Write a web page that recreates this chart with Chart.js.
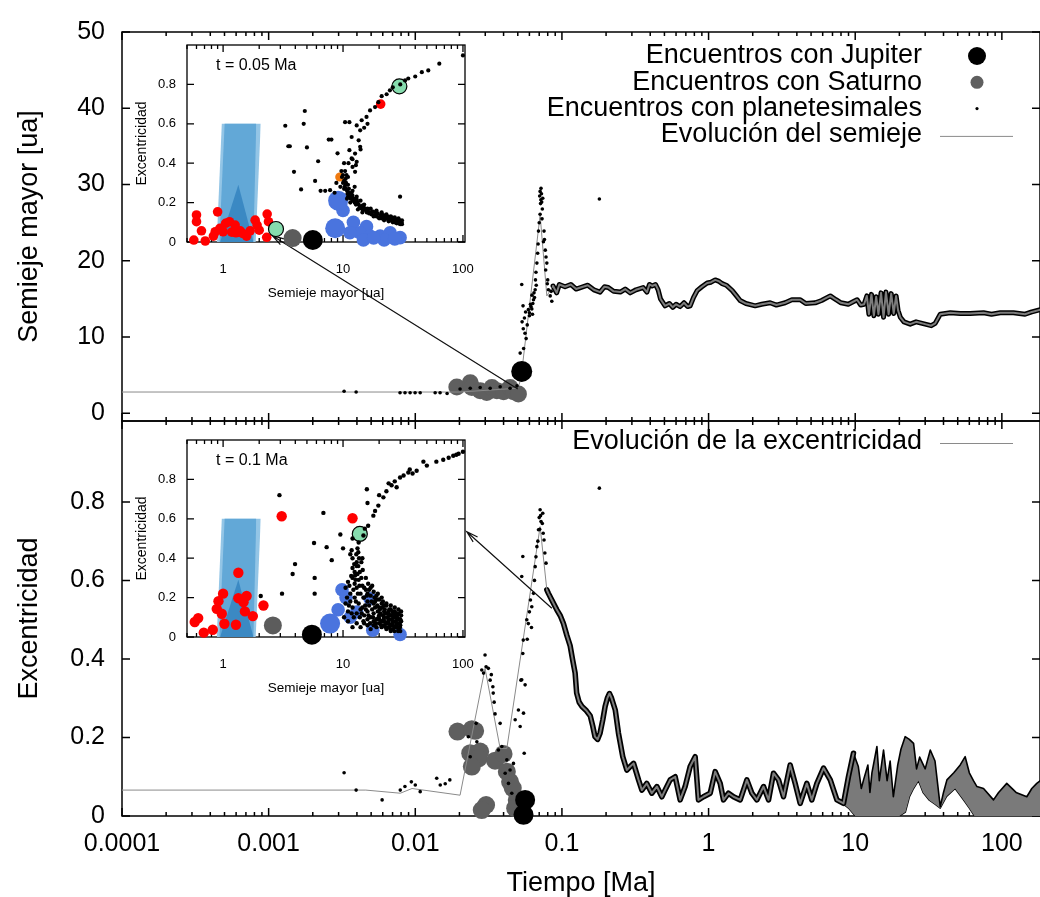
<!DOCTYPE html>
<html>
<head>
<meta charset="utf-8">
<title>Semieje y excentricidad</title>
<script src="https://cdn.jsdelivr.net/npm/chart.js@4.4.1/dist/chart.umd.min.js"></script>
<style>
  html,body{margin:0;background:#fff}
  #wrap{position:relative;width:1040px;height:897px;overflow:hidden;background:#fff}
  #wrap canvas{position:absolute;left:0;top:0}
</style>
</head>
<body>
<div id="wrap">
  <canvas id="cTop" width="1040" height="897"></canvas>
  <canvas id="cBot" width="1040" height="897"></canvas>
  <canvas id="cInA" width="1040" height="897"></canvas>
  <canvas id="cInB" width="1040" height="897"></canvas>
</div>
<script>
// ---- axes ----
const timeTicks = [1e-4, 1e-3, 0.01, 0.1, 1, 10, 100];
const timeLabels = ['0.0001', '0.001', '0.01', '0.1', '1', '10', '100'];
const semiTicks = [0, 10, 20, 30, 40, 50];
const semiLabels = ['0', '10', '20', '30', '40', '50'];
const eccTicks = [0, 0.2, 0.4, 0.6, 0.8];
const eccLabels = ['0', '0.2', '0.4', '0.6', '0.8'];
const insetTicks = [1, 10, 100];
const insetLabels = ['1', '10', '100'];

const legendTop = ['Encuentros con Jupiter', 'Encuentros con Saturno', 'Encuentros con planetesimales', 'Evolución del semieje'];
const legendBot = ['Evolución de la excentricidad'];

// ---- semieje mayor [ua] vs tiempo [Ma] ----
const semiEarly = [[1e-4,2.8],[0.0202,2.8],[0.035,3.1],[0.05,3.3],[0.0525,4.5],[0.071,26.0],[0.0789,15.4],[0.087,16.7]];
const semiTrack = [[0.087,16.7],[0.092,15.8],[0.096,16.9],[0.105,16.6],[0.115,16.9],[0.125,16.3],[0.134,16.5],[0.15,16.8],
  [0.165,16.2],[0.182,15.9],[0.195,16.6],[0.207,16.5],[0.225,16.0],[0.25,15.9],[0.27,16.3],[0.292,15.8],[0.32,16.2],
  [0.358,16.5],[0.38,15.9],[0.395,16.9],[0.412,16.7],[0.435,16.9],[0.453,16.2],[0.47,15.0],[0.505,14.1],[0.54,14.4],
  [0.57,13.9],[0.60,14.3],[0.64,14.0],[0.68,14.5],[0.72,14.0],[0.749,14.1],[0.79,15.2],[0.836,16.1],[0.9,16.6],
  [0.978,17.1],[1.04,17.2],[1.11,17.5],[1.18,17.3],[1.24,17.0],[1.32,16.8],[1.45,16.1],[1.55,15.4],[1.64,14.8],
  [1.8,14.4],[2.08,14.1],[2.3,14.3],[2.63,14.5],[2.9,14.2],[3.33,14.5],[3.7,14.9],[4.22,14.9],[4.6,14.4],[5.34,14.5],
  [5.9,14.8],[6.76,15.4],[7.4,14.9],[8.0,14.5],[8.96,14.3],[9.6,14.6],[10.3,14.9],[10.9,14.2],[11.5,14.3],[12.0,15.4],
  [12.4,13.0],[12.9,15.6],[13.4,12.8],[13.9,15.3],[14.4,13.0],[15.0,15.8],[15.6,12.6],[16.2,15.9],[16.9,13.0],
  [17.6,15.7],[18.3,13.1],[19.0,15.4],[19.6,13.5],[20.3,12.6],[21.5,12.0],[23.7,11.7],[26,12.0],[30,11.7],[33,11.5],
  [35.1,11.8],[38,13.0],[44.5,13.2],[52,13.1],[60.8,13.1],[75,13.2],[85,13.0],[97.5,13.2],[120,13.2],[144,13.0],
  [160,13.3],[183,13.6]];
const pdTop = [[0.00327,2.9],[0.00395,2.8],[0.00787,2.7],[0.00851,2.7],[0.00922,2.7],[0.00997,2.7],[0.0108,2.7],
  [0.01366,2.7],[0.01476,2.7],[0.01648,2.6],[0.0202,3.2],[0.0237,3.3],[0.0277,3.4],[0.0324,3.3],[0.0379,3.5],
  [0.0443,3.3],[0.0494,3.6],[0.052,5.0],[0.0525,6.5],[0.0519,7.9],[0.0548,8.5],[0.057,9.8],[0.056,10.5],[0.0545,11.1],
  [0.058,11.6],[0.0535,12.0],[0.0555,12.5],[0.060,12.8],[0.063,13.0],[0.0565,13.3],[0.059,13.6],[0.0623,13.7],
  [0.0543,14.1],[0.061,14.3],[0.064,14.9],[0.0625,15.5],[0.0645,15.8],[0.0657,16.2],[0.0532,16.9],[0.066,17.5],
  [0.0665,18.5],[0.0675,19.7],[0.0683,21.0],[0.0692,23.9],[0.070,25.0],[0.0710,26.1],[0.0715,27.5],[0.0710,29.1],
  [0.0705,28.5],[0.0725,28.8],[0.072,29.5],[0.0728,27.7],[0.0740,28.2],[0.0735,26.8],[0.0755,23.9],[0.0748,22.5],
  [0.0770,21.4],[0.0779,20.5],[0.0789,19.7],[0.0800,17.5],[0.0809,16.2],[0.0832,15.4],[0.0853,14.7],[0.0845,16.0],
  [0.0600,13.2],[0.0615,14.0],[0.0633,14.4],[0.0650,15.2],[0.0668,16.8],[0.0688,22.2],[0.0718,28.0],[0.0732,25.5],
  [0.0760,22.8],[0.0775,18.8],[0.0795,17.0],[0.18,28.1]];
const satTop = [[0.0192,3.47],[0.0237,4.0],[0.0243,3.38],[0.0277,2.96],[0.0307,2.74],[0.0333,3.38],[0.036,2.96],
  [0.040,2.83],[0.0443,3.38],[0.0467,2.83],[0.0505,2.53]];
const jupTop = [[0.0532,5.5]];

// ---- excentricidad vs tiempo [Ma] ----
const eccEarly = [[1e-4,0.066],[0.0046,0.066],[0.0079,0.058],[0.0095,0.070],[0.0202,0.053],[0.0299,0.376],
  [0.0379,0.172],[0.0421,0.172],[0.071,0.737],[0.0789,0.576]];
const eccTrack = [[0.0789,0.576],[0.0809,0.567],[0.0853,0.55],[0.0923,0.525],[0.0975,0.51],[0.1024,0.49],[0.108,0.46],
  [0.1137,0.434],[0.118,0.40],[0.123,0.364],[0.126,0.313],[0.131,0.29],[0.137,0.279],[0.147,0.268],[0.156,0.255],
  [0.162,0.23],[0.168,0.202],[0.175,0.195],[0.182,0.211],[0.19,0.245],[0.197,0.279],[0.204,0.30],[0.211,0.312],
  [0.218,0.30],[0.231,0.27],[0.243,0.211],[0.26,0.151],[0.277,0.117],[0.292,0.126],[0.308,0.134],[0.333,0.092],
  [0.351,0.066],[0.379,0.083],[0.41,0.058],[0.444,0.075],[0.48,0.049],[0.505,0.066],[0.547,0.092],[0.592,0.10],
  [0.64,0.041],[0.692,0.075],[0.749,0.126],[0.81,0.151],[0.853,0.041],[0.923,0.049],[1.026,0.058],[1.109,0.113],
  [1.2,0.083],[1.264,0.041],[1.367,0.058],[1.479,0.049],[1.643,0.041],[1.825,0.092],[1.974,0.058],[2.134,0.041],
  [2.37,0.075],[2.564,0.041],[2.771,0.109],[2.998,0.092],[3.243,0.049],[3.6,0.13],[3.896,0.083],[4.214,0.032],
  [4.677,0.083],[5.058,0.041],[5.478,0.083],[6.08,0.122],[6.757,0.092],[7.5,0.041],[8.32,0.032],[8.99,0.10],[9.73,0.16]];
const eccHi = [[8.32,0.032],[8.99,0.10],[9.73,0.16],[10.5,0.126],[11.0,0.07],[11.4,0.092],[12.2,0.13],[12.6,0.06],
  [13.0,0.11],[14.06,0.177],[14.6,0.09],[15.6,0.168],[16.5,0.09],[17.3,0.14],[18.2,0.049],[19.5,0.13],[20.5,0.17],
  [21.9,0.202],[23.4,0.195],[25.0,0.185],[26.2,0.12],[27.5,0.15],[30,0.12],[32.5,0.168],[35,0.14],[38.0,0.024],
  [40,0.06],[42.2,0.092],[47,0.11],[52,0.13],[56.2,0.151],[60,0.11],[64,0.09],[67.6,0.075],[75,0.07],[87.7,0.041],
  [95,0.06],[108,0.083],[125,0.06],[148,0.049],[160,0.07],[173,0.083],[183,0.09]];
const eccLo = [[8.32,0.03],[9,0.02],[10,0.0],[12,0.0],[15,0.0],[18,0.0],[20,0.0],[22,0.01],[23.5,0.05],[25,0.07],
  [27,0.09],[29,0.06],[32,0.04],[35,0.03],[38,0.02],[42,0.05],[48,0.07],[55,0.04],[60,0.02],[65,0.0],[80,0.0],
  [100,0.0],[130,0.0],[160,0.0],[183,0.0]];
const pdBot = [[0.00327,0.11],[0.00395,0.066],[0.00594,0.041],[0.0079,0.066],[0.0085,0.075],[0.0094,0.087],
  [0.0100,0.079],[0.0108,0.062],[0.0140,0.096],[0.0148,0.079],[0.0160,0.082],[0.0172,0.092],
  [0.0230,0.202],[0.0237,0.151],[0.0260,0.236],[0.0263,0.189],[0.0284,0.372],[0.0292,0.364],[0.0299,0.410],
  [0.0304,0.380],[0.0315,0.376],[0.0324,0.346],[0.0338,0.329],[0.0340,0.313],[0.0330,0.36],[0.0345,0.29],
  [0.0350,0.26],[0.0379,0.236],[0.0389,0.177],[0.0369,0.168],[0.0421,0.143],[0.0443,0.117],[0.0410,0.109],
  [0.0467,0.134],[0.0432,0.083],[0.0455,0.058],[0.0480,0.245],[0.0505,0.27],[0.0519,0.228],[0.0553,0.160],
  [0.0547,0.262],[0.0561,0.334],[0.0525,0.346],[0.0532,0.347],[0.0541,0.414],[0.0545,0.448],[0.0576,0.5],
  [0.0623,0.533],[0.0640,0.567],[0.0657,0.635],[0.0675,0.686],[0.0692,0.729],[0.0710,0.780],[0.0740,0.771],
  [0.0755,0.703],[0.0779,0.644],[0.0541,0.661],[0.0532,0.61],[0.0600,0.52],[0.062,0.48],[0.058,0.45],
  [0.0700,0.76],[0.0720,0.75],[0.0705,0.73],[0.0735,0.745],[0.0590,0.49],[0.0610,0.55],[0.0650,0.60],
  [0.0665,0.66],[0.0685,0.70],[0.0715,0.765],[0.0745,0.72],[0.0765,0.67],[0.18,0.835]];
const satBot = [[0.0194,0.215],[0.0243,0.221],[0.0256,0.217],[0.0237,0.160],[0.0277,0.164],[0.0270,0.147],
  [0.0243,0.126],[0.0304,0.028],[0.0284,0.015],[0.035,0.141],[0.040,0.158],[0.0421,0.113],[0.0443,0.087],
  [0.0462,0.071],[0.0492,0.041],[0.048,0.020]];
const jupBot = [[0.0561,0.041],[0.0547,0.003]];

// arrows: from the main curve to each inset
const arrowTop = [[0.05,3.2],[0.00106,23.3]];
const arrowBot = [[0.0853,0.529],[0.02245,0.724]];

// ---- insets: excentricidad vs semieje [ua] ----
const zoneOuterBase = [[0.885,0],[1.87,0],[2.06,0.6]];
const zoneOuterTop = [[0.885,0],[0.975,0.6],[2.06,0.6]];
const zoneInnerBase = [[0.93,0],[1.79,0],[1.89,0.6]];
const zoneInnerTop = [[0.93,0],[1.03,0.6],[1.89,0.6]];
const zonePeak = [[0.944,0],[1.34,0.29],[1.79,0]];

// t = 0.05 Ma
const aBlack = [[100,0.947],[63.5,0.905],[51.4,0.871],[45.4,0.862],[40,0.84],[35,0.83],[32.9,0.82],[30,0.80],
  [26,0.785],[24.6,0.77],[23.1,0.75],[21,0.74],[19.7,0.71],[18.5,0.685],[16.8,0.668],[15.7,0.635],[14.3,0.618],
  [13.0,0.592],[11.3,0.608],[10.4,0.608],[13.9,0.567],[11.8,0.533],[13.5,0.516],[13.9,0.483],[11.3,0.466],
  [12.6,0.449],[11.8,0.424],[13.0,0.407],[11.1,0.40],[12.0,0.381],[12.6,0.356],[10.7,0.339],[29.9,0.23],
  [3.3,0.59],[3.5,0.486],[3.6,0.486],[4.7,0.60],[4.8,0.665],[5.0,0.48],[3.9,0.356],[4.47,0.267],[5.85,0.31],
  [6.2,0.41],[7.1,0.26],[7.6,0.52],[8.0,0.52],[7.8,0.263],[8.5,0.25],[6.5,0.26],[9.0,0.45],[8.8,0.30],
  [9.8,0.33],[10.2,0.31],[10.5,0.29],[10.2,0.27],[10.8,0.26],[11.2,0.25],[11.0,0.23],[11.8,0.25],[12.2,0.22],
  [12.5,0.20],[13.0,0.21],[13.5,0.19],[14.0,0.18],[14.8,0.18],[15.5,0.16],[16.2,0.165],[17.0,0.15],[17.9,0.153],
  [18.8,0.14],[19.5,0.145],[20.5,0.135],[21.7,0.137],[22.5,0.125],[23.5,0.13],[24.5,0.12],[25.5,0.115],[26.3,0.12],
  [27.5,0.11],[28.5,0.105],[29.5,0.10],[30.9,0.098],[31,0.11],[29,0.12],[27,0.125],[25,0.13],[23,0.14],[21,0.15],
  [19,0.16],[17,0.17],[15,0.19],[13,0.23],[12,0.26],[11,0.29],[10.5,0.32],[12.5,0.28],[14,0.21],[16,0.155],
  [18,0.13],[20,0.12],[22,0.11],[24,0.105],[26,0.1],[28,0.095],[30,0.09],[11.5,0.20],[10.8,0.22],[13.3,0.165],
  [14.5,0.15],[9.5,0.28],[10.2,0.40],[12,0.42],[15,0.58],[16,0.60],[14,0.47],[12.8,0.39],
  [10.0,0.30],[10.3,0.28],[10.6,0.27],[10.9,0.245],[11.3,0.235],[11.6,0.22],[12.0,0.21],[12.4,0.215],[12.8,0.19],
  [13.2,0.2],[13.7,0.175],[14.2,0.17],[14.6,0.165],[15.2,0.17],[15.8,0.15],[16.5,0.145],[17.3,0.14],[18.2,0.135],
  [19.0,0.13],[19.8,0.125],[20.8,0.12],[21.5,0.125],[22.2,0.115],[23.0,0.12],[24.0,0.11],[25.0,0.11],[26.0,0.105],
  [27.0,0.1],[28.0,0.1],[29.0,0.095],[30.0,0.1],[31.0,0.09],[29.5,0.11],[27.5,0.115],[25.5,0.125],[23.5,0.125],
  [21.0,0.135],[19.0,0.145],[17.5,0.155],[16.0,0.17],[14.5,0.185],[13.0,0.215],[12.0,0.235],[11.2,0.27],[10.6,0.30],
  [10.0,0.34],[9.7,0.36],[10.4,0.36],[11.0,0.33]];
const aRed = [[0.57,0.01],[0.60,0.137],[0.60,0.103],[0.66,0.057],[0.71,0.005],[0.83,0.03],[0.86,0.052],[0.90,0.153],
  [0.94,0.069],[1.0,0.052],[1.05,0.095],[1.13,0.103],[1.18,0.05],[1.26,0.086],[1.28,0.047],[1.39,0.057],[1.45,0.044],
  [1.57,0.03],[1.68,0.057],[1.85,0.111],[1.92,0.086],[2.0,0.06],[2.31,0.024],[2.33,0.142],[2.39,0.103],[20.6,0.70]];
const aBlueBig = [[9.1,0.21],[8.6,0.07]];
const aBlue = [[9.5,0.19],[10,0.16],[12.2,0.10],[15.7,0.078],[13.8,0.047],[16.8,0.03],[20.4,0.03],[24.7,0.047],
  [29.9,0.022],[14.8,0.01],[11.4,0.047],[22,0.01],[18,0.02],[27,0.015]];
const aGreen = [[2.76,0.066],[29.5,0.79]];
const aOrange = [[9.4,0.33]];
const aSat = [[3.8,0.02]];
const aJup = [[5.6,0.01]];

// t = 0.1 Ma
const bBlack = [[83,0.92],[88,0.925],[92,0.93],[100,0.94],[76,0.91],[68.5,0.90],[60,0.89],[46.8,0.89],[41.1,0.844],
  [38,0.83],[35,0.835],[32,0.82],[29.9,0.81],[27,0.79],[25.4,0.77],[23,0.74],[21.7,0.709],[19.7,0.667],[18.5,0.64],
  [17.9,0.616],[16.2,0.565],[15.2,0.55],[14.8,0.515],[13.4,0.43],[13.0,0.38],[12.6,0.312],[16,0.68],[20,0.72],
  [24,0.78],[28,0.76],[36,0.85],[50,0.87],[12,0.35],[13.5,0.48],[11.5,0.42],[14.5,0.40],[12,0.5],[15.8,0.75],
  [2.95,0.72],[3.98,0.37],[3.8,0.32],[3.1,0.22],[2.06,0.208],[5.73,0.477],[5.8,0.30],[5.8,0.22],[6.86,0.63],
  [7.3,0.456],[8.05,0.39],[9.5,0.52],[10,0.45],
  [10.5,0.25],[11,0.28],[11.5,0.22],[12,0.30],[12.5,0.27],[13,0.25],[13.5,0.29],[14,0.22],[14.5,0.26],[15,0.2],
  [15.5,0.24],[16,0.18],[17,0.21],[18,0.17],[19,0.19],[20,0.15],[21,0.17],[22,0.13],[23,0.16],[24,0.12],[25,0.14],
  [26,0.11],[27,0.13],[28,0.1],[29,0.12],[30,0.09],[30,0.06],[29,0.04],[28,0.07],[27,0.05],[26,0.08],[25,0.06],
  [24,0.09],[23,0.07],[22,0.1],[21,0.08],[20,0.11],[19,0.09],[18,0.12],[17,0.1],[16,0.13],[15,0.11],[14,0.14],
  [13,0.12],[12,0.15],[11,0.13],[10.5,0.17],[11.5,0.18],[12.5,0.2],[13.5,0.17],[14.5,0.15],[15.5,0.14],[16.5,0.16],
  [17.5,0.14],[18.5,0.15],[19.5,0.13],[20.5,0.12],[21.5,0.11],[22.5,0.12],[23.5,0.1],[24.5,0.11],[25.5,0.09],
  [26.5,0.1],[27.5,0.08],[28.5,0.09],[29.5,0.07],[12,0.05],[13,0.07],[14,0.05],[15,0.07],[16,0.06],[17,0.04],
  [18,0.06],[19,0.05],[20,0.07],[21,0.05],[22,0.06],[23,0.04],[24,0.05],[25,0.03],[26,0.04],[11,0.08],[10.2,0.1],
  [16,0.09],[18,0.08],[20,0.09],[22,0.08],[24,0.07],[26,0.06],[28,0.05],[30,0.03],[12.5,0.33],[13,0.36],[12,0.4],
  [13.8,0.33],[14.2,0.38],[11.8,0.44],[13.2,0.45],[14.8,0.2],[17.5,0.26],[19.5,0.22],[16.5,0.24],[21,0.2],
  [10.8,0.2],[11.2,0.16],[11.8,0.12],[12.3,0.1],[12.8,0.18],[13.3,0.22],[13.8,0.1],[14.3,0.12],[14.8,0.08],
  [15.3,0.16],[15.8,0.21],[16.3,0.11],[16.8,0.07],[17.3,0.18],[17.8,0.1],[18.3,0.2],[18.8,0.07],[19.3,0.16],
  [19.8,0.1],[20.3,0.14],[20.8,0.06],[21.3,0.15],[21.8,0.09],[22.3,0.14],[22.8,0.05],[23.3,0.12],[23.8,0.08],
  [24.3,0.14],[24.8,0.04],[25.3,0.11],[25.8,0.07],[26.3,0.12],[26.8,0.03],[27.3,0.1],[27.8,0.06],[28.3,0.11],
  [28.8,0.03],[29.3,0.09],[29.8,0.05],[30.5,0.08],[30.5,0.11],[12.2,0.24],[12.7,0.29],[13.2,0.32],[13.7,0.26],
  [14.2,0.3],[11.3,0.26],[11.7,0.31],[12.4,0.37],[13.6,0.4],[12.9,0.42],[13.4,0.36],[14.6,0.34],[15.5,0.3],
  [16.2,0.27],[17,0.25],[18,0.23],[19,0.21],[20,0.19],[21.5,0.18],[23,0.17],[25,0.16],[27,0.15],[29,0.14],
  [30.5,0.13],[15,0.25],[16,0.22],[18.5,0.18],[22,0.16],[24,0.13],[26,0.13],[28,0.12]];
const bRed = [[0.58,0.076],[0.62,0.096],[0.69,0.022],[0.82,0.037],[0.885,0.143],[0.915,0.182],[0.975,0.118],
  [1.0,0.22],[1.025,0.067],[1.28,0.062],[1.34,0.326],[1.34,0.197],[1.48,0.177],[1.52,0.13],[1.57,0.208],
  [1.77,0.106],[2.17,0.16],[3.08,0.613],[12.0,0.603]];
const bBlueBig = [[7.8,0.068]];
const bBlue = [[9.1,0.138],[9.8,0.24],[13,0.127],[17.7,0.034],[29.9,0.013],[16.8,0.194],[10.6,0.2],[11.5,0.1]];
const bGreen = [[13.8,0.523]];
const bSat = [[2.6,0.059]];
const bJup = [[5.5,0.012]];

// ---- helpers ----
const FONT = '"Liberation Sans", Arial, Helvetica, sans-serif';
const GREY_LINE = '#8a8a8a';
const pts = a => a.map(([x, y]) => ({x, y}));
const minorOf = (lo, hi) => { const out = []; for (let d = lo; d < hi * 0.999; d *= 10) for (let k = 2; k < 10; k++) out.push(k * d); return out; };

const line = (data, color, width, order, extra) => Object.assign({
  data: pts(data), borderColor: color, borderWidth: width, pointRadius: 0, showLine: true,
  fill: false, tension: 0, order, borderJoinStyle: 'round', borderCapStyle: 'round'
}, extra || {});
const dots = (data, color, r, order, extra) => Object.assign({
  data: pts(data), showLine: false, fill: false, pointRadius: r, pointBackgroundColor: color,
  pointBorderColor: color, pointBorderWidth: 0, borderColor: color, order, clip: false
}, extra || {});

// gnuplot-like frame with inward ticks on all four sides
function frame(o) {
  return {
    id: 'frame',
    beforeDatasetsDraw(chart) {
      const {ctx, chartArea: a, scales: {x, y}} = chart;
      ctx.save();
      ctx.strokeStyle = '#000';
      ctx.lineWidth = o.lw;
      ctx.strokeRect(a.left, a.top, a.right - a.left, a.bottom - a.top);
      ctx.beginPath();
      const vt = (v, len) => {
        const p = x.getPixelForValue(v);
        if (p < a.left - 0.5 || p > a.right + 0.5) return;
        ctx.moveTo(p, a.bottom); ctx.lineTo(p, a.bottom - len);
        ctx.moveTo(p, a.top); ctx.lineTo(p, a.top + len);
      };
      o.xMajor.forEach(v => vt(v, o.len));
      o.xMinor.forEach(v => vt(v, o.minor));
      o.yMajor.forEach(v => {
        const p = y.getPixelForValue(v);
        ctx.moveTo(a.left, p); ctx.lineTo(a.left + o.len, p);
        ctx.moveTo(a.right, p); ctx.lineTo(a.right - o.len, p);
      });
      ctx.stroke();
      ctx.restore();
    }
  };
}

function arrow(pair) {
  return {
    id: 'arrow',
    afterDatasetsDraw(chart) {
      const {ctx, scales: {x, y}} = chart;
      const [p, q] = pair;
      const x0 = x.getPixelForValue(p[0]), y0 = y.getPixelForValue(p[1]);
      const x1 = x.getPixelForValue(q[0]), y1 = y.getPixelForValue(q[1]);
      const ang = Math.atan2(y1 - y0, x1 - x0), L = 12, s = 0.28;
      ctx.save();
      ctx.strokeStyle = '#111'; ctx.lineWidth = 1.2;
      ctx.beginPath();
      ctx.moveTo(x0, y0); ctx.lineTo(x1, y1);
      ctx.moveTo(x1 - L * Math.cos(ang - s), y1 - L * Math.sin(ang - s));
      ctx.lineTo(x1, y1);
      ctx.lineTo(x1 - L * Math.cos(ang + s), y1 - L * Math.sin(ang + s));
      ctx.stroke();
      ctx.restore();
    }
  };
}

// key drawn at the upper right of a panel, symbols to the right of the text
function key(labels, syms, first) {
  return {
    id: 'key',
    afterDraw(chart) {
      const {ctx, chartArea: a} = chart;
      ctx.save();
      ctx.font = '27px ' + FONT;
      ctx.textAlign = 'right'; ctx.textBaseline = 'middle';
      labels.forEach((txt, i) => {
        const yy = a.top + first + i * 26.3;
        ctx.fillStyle = '#000';
        ctx.fillText(txt, a.right - 118, yy);
        const s = syms[i];
        if (s.r) {
          ctx.beginPath(); ctx.fillStyle = s.c;
          ctx.arc(a.right - 63, yy, s.r, 0, 2 * Math.PI); ctx.fill();
        } else {
          ctx.beginPath(); ctx.strokeStyle = GREY_LINE; ctx.lineWidth = 1;
          ctx.moveTo(a.right - 100, yy + 1.5); ctx.lineTo(a.right - 27, yy + 1.5); ctx.stroke();
        }
      });
      ctx.restore();
    }
  };
}

function stamp(txt) {
  return {
    id: 'stamp',
    afterDraw(chart) {
      const {ctx, chartArea: a} = chart;
      ctx.save();
      ctx.font = '16px ' + FONT; ctx.fillStyle = '#000';
      ctx.textAlign = 'left'; ctx.textBaseline = 'middle';
      ctx.fillText(txt, a.left + 29, a.top + 21);
      ctx.restore();
    }
  };
}

const base = {
  responsive: false, animation: false, events: [],
  plugins: {legend: {display: false}, tooltip: {enabled: false}}
};
const noGrid = {display: false, drawTicks: false};

function yAxis(min, max, ticks, labels, title, width, o) {
  return {
    min, max,
    afterBuildTicks: s => { s.ticks = ticks.map(v => ({value: v})); },
    afterFit: s => { s.width = width; },
    grid: noGrid, border: {display: false},
    ticks: {padding: o.pad, color: '#000', font: {family: FONT, size: o.size}, callback: (v, i) => labels[i]},
    title: {display: true, text: title, color: '#000', font: {family: FONT, size: o.tsize, lineHeight: 1.2},
      padding: {top: o.tpad, bottom: 0}}
  };
}

// ---- upper panel: semieje mayor ----
new Chart(document.getElementById('cTop'), {
  type: 'line',
  data: {datasets: [
    line(semiEarly, GREY_LINE, 1, 2),
    line(semiTrack, '#000', 5, 5),
    line(semiTrack, '#7c7c7c', 2, 4),
    dots(pdTop, '#000', 1.8, 1),
    dots(satTop, '#5f5f5f', 8.5, 3),
    dots(jupTop, '#000', 10.5, 0)
  ]},
  options: Object.assign({}, base, {
    layout: {autoPadding: false, padding: {left: 0, top: 24, right: 0, bottom: 476}},
    scales: {
      x: {type: 'logarithmic', min: 1e-4, max: 182, display: false},
      y: yAxis(-1, 50, semiTicks, semiLabels, 'Semieje mayor [ua]', 122, {pad: 17, size: 25, tsize: 27, tpad: 13})
    }
  }),
  plugins: [
    frame({lw: 1.5, len: 8, minor: 4, xMajor: timeTicks, xMinor: minorOf(1e-4, 1000), yMajor: semiTicks}),
    arrow(arrowTop),
    key(legendTop, [{r: 9, c: '#000'}, {r: 6.5, c: '#5f5f5f'}, {r: 1.6, c: '#000'}, {}], 24)
  ]
});

// ---- lower panel: excentricidad ----
new Chart(document.getElementById('cBot'), {
  type: 'line',
  data: {datasets: [
    line(eccLo, '#000', 1.4, 7),
    line(eccHi, '#000', 1.6, 6, {fill: '-1', backgroundColor: '#7a7a7a'}),
    line(eccEarly, GREY_LINE, 1, 2),
    line(eccTrack, '#000', 5.5, 5),
    line(eccTrack, '#7c7c7c', 2, 4),
    dots(satBot, '#5f5f5f', 9, 3),
    dots(pdBot, '#000', 1.8, 1),
    dots(jupBot, '#000', 10, 0)
  ]},
  options: Object.assign({}, base, {
    layout: {autoPadding: false, padding: {left: 0, top: 421, right: 0, bottom: 0}},
    scales: {
      x: {
        type: 'logarithmic', min: 1e-4, max: 182,
        afterBuildTicks: s => { s.ticks = timeTicks.map(v => ({value: v})); },
        afterFit: s => { s.height = 81; },
        grid: noGrid, border: {display: false},
        ticks: {autoSkip: false, maxRotation: 0, padding: 13, color: '#000',
          font: {family: FONT, size: 25}, callback: (v, i) => timeLabels[i]},
        title: {display: true, text: 'Tiempo [Ma]', color: '#000',
          font: {family: FONT, size: 27, lineHeight: 1}, padding: 0}
      },
      y: yAxis(0, 1.006, eccTicks, eccLabels, 'Excentricidad', 122, {pad: 17, size: 25, tsize: 27, tpad: 13})
    }
  }),
  plugins: [
    frame({lw: 1.5, len: 8, minor: 4, xMajor: timeTicks, xMinor: minorOf(1e-4, 1000), yMajor: eccTicks}),
    arrow(arrowBot),
    key(legendBot, [{}], 21)
  ]
});

// ---- insets ----
function zone() {
  return [
    line(zoneOuterBase, 'rgba(0,0,0,0)', 0, 12),
    line(zoneOuterTop, 'rgba(0,0,0,0)', 0, 11, {fill: '-1', backgroundColor: '#93c5e6'}),
    line(zoneInnerBase, 'rgba(0,0,0,0)', 0, 10),
    line(zoneInnerTop, 'rgba(0,0,0,0)', 0, 9, {fill: '-1', backgroundColor: '#62a8d7'}),
    line(zonePeak, 'rgba(0,0,0,0)', 0, 8, {fill: 'origin', backgroundColor: '#3b89c3'})
  ];
}
const green = (data) => dots(data, '#86dcae', 7.5, 1, {pointBorderColor: '#000', pointBorderWidth: 1.2});

function inset(id, top, datasets, txt) {
  new Chart(document.getElementById(id), {
    type: 'line',
    data: {datasets},
    options: Object.assign({}, base, {
      layout: {autoPadding: false, padding: {left: 130, top, right: 575, bottom: 897 - top - 197 - 60}},
      scales: {
        x: {
          type: 'logarithmic', min: 0.5, max: 104,
          afterBuildTicks: s => { s.ticks = insetTicks.map(v => ({value: v})); },
          afterFit: s => { s.height = 60; },
          grid: noGrid, border: {display: false},
          ticks: {autoSkip: false, maxRotation: 0, padding: 20, color: '#000',
            font: {family: FONT, size: 13}, callback: (v, i) => insetLabels[i]},
          title: {display: true, text: 'Semieje mayor [ua]', color: '#000',
            font: {family: FONT, size: 13.5, lineHeight: 1.2}, padding: {top: 0, bottom: 1}}
        },
        y: yAxis(0, 1.0, eccTicks, eccLabels, 'Excentricidad', 57, {pad: 11, size: 13, tsize: 14, tpad: 4})
      }
    }),
    plugins: [
      frame({lw: 1.3, len: 7, minor: 4, xMajor: insetTicks, xMinor: minorOf(0.1, 100).filter(v => v >= 0.5), yMajor: eccTicks}),
      stamp(txt)
    ]
  });
}

inset('cInA', 45, zone().concat([
  dots(aBlueBig, '#4a74de', 10, 4),
  dots(aBlue, '#4a74de', 6.8, 4),
  dots(aSat, '#5c5c5c', 9, 3),
  dots(aJup, '#000', 10, 3),
  dots(aRed, '#ff0000', 4.8, 2),
  dots(aOrange, '#f07a10', 4.6, 2),
  green(aGreen),
  dots(aBlack, '#000', 2.1, 0)
]), 't = 0.05 Ma');

inset('cInB', 440, zone().concat([
  dots(bBlueBig, '#4a74de', 10, 4),
  dots(bBlue, '#4a74de', 6.8, 4),
  dots(bSat, '#5c5c5c', 9, 3),
  dots(bJup, '#000', 10, 3),
  dots(bRed, '#ff0000', 5.2, 2),
  green(bGreen),
  dots(bBlack, '#000', 2.2, 0)
]), 't = 0.1 Ma');
</script>
</body>
</html>
